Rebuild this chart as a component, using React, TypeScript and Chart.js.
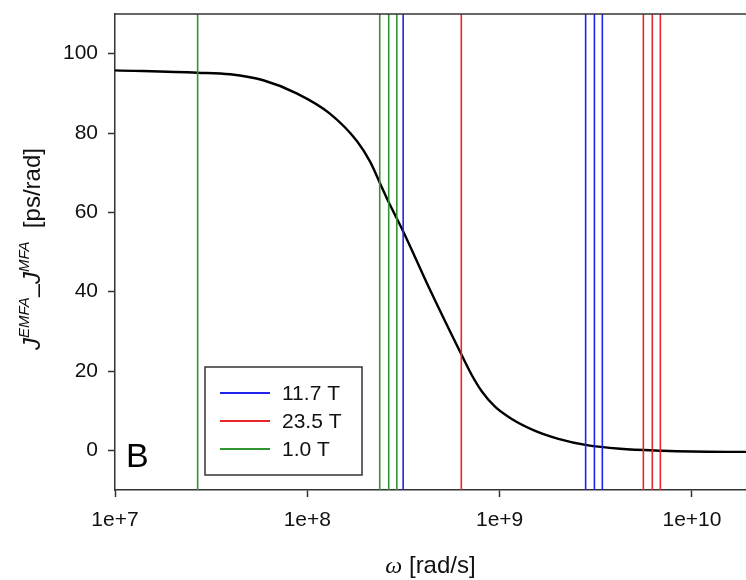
import React, { useEffect, useRef } from "react";
import { Chart, registerables } from "chart.js";

Chart.register(...registerables);

// Black curve: omega [rad/s] and J_EMFA - J_MFA [ps/rad]
const curveOmega = [1e7, 2.69e7, 3.97e7, 5.9e7, 8.8e7, 1.31e8, 1.81e8, 2.12e8, 2.39e8, 2.67e8, 3.13e8, 4.35e8, 6.32e8, 7.16e8, 8.07e8, 9.46e8, 1.156e9, 1.53e9, 2.02e9, 2.84e9, 4.23e9, 7e9, 1e10, 1.91e10];
const curveJ = [95.8, 95.2, 94.8, 93.3, 90.0, 84.9, 78.0, 72.8, 67.3, 62.2, 55.5, 40.4, 24.2, 19.0, 14.9, 11.0, 7.9, 4.9, 2.9, 1.3, 0.4, -0.1, -0.3, -0.4];

// Vertical frequency markers per field
const field117 = [3.15e8, 2.8e9, 3.11e9, 3.42e9];
const field235 = [6.32e8, 5.59e9, 6.22e9, 6.85e9];
const field10 = [2.69e7, 2.38e8, 2.65e8, 2.92e8];

const legendLabels = ["11.7 T", "23.5 T", "1.0 T"];
const legendColors = ["#2323ee", "#e8262a", "#2f962f"];

const xTicks = [1e7, 1e8, 1e9, 1e10];
const yTicks = [0, 20, 40, 60, 80, 100];
const xMin = 1e7;
const xMax = 1.91e10;
const yMin = -10;
const yMax = 110;

const SANS = "'Liberation Sans', Arial, sans-serif";

function vlineSets(values: number[], color: string) {
  return values.map((v) => ({
    data: [
      { x: v, y: yMin },
      { x: v, y: yMax },
    ],
    borderColor: color,
    borderWidth: 1.6,
    pointRadius: 0,
    fill: false,
  }));
}

const decorPlugin = {
  id: "decor",
  afterDraw(chart: any) {
    const ctx = chart.ctx as CanvasRenderingContext2D;
    const a = chart.chartArea;
    ctx.save();
    // top frame line
    ctx.strokeStyle = "#333";
    ctx.lineWidth = 1.5;
    ctx.beginPath();
    ctx.moveTo(a.left, a.top);
    ctx.lineTo(a.right, a.top);
    ctx.stroke();

    // Legend box
    ctx.fillStyle = "#fff";
    ctx.fillRect(205, 367, 157, 108);
    ctx.strokeStyle = "#333";
    ctx.lineWidth = 1.5;
    ctx.strokeRect(205, 367, 157, 108);
    const ys = [393, 421, 449];
    ctx.font = `21px ${SANS}`;
    ctx.textBaseline = "middle";
    ctx.textAlign = "left";
    legendLabels.forEach((lab, i) => {
      ctx.strokeStyle = legendColors[i];
      ctx.lineWidth = 2;
      ctx.beginPath();
      ctx.moveTo(220, ys[i]);
      ctx.lineTo(270, ys[i]);
      ctx.stroke();
      ctx.fillStyle = "#111";
      ctx.fillText(lab, 282, ys[i] + 1);
    });

    // Panel letter
    ctx.font = `34px ${SANS}`;
    ctx.textBaseline = "alphabetic";
    ctx.fillStyle = "#000";
    ctx.fillText("B", 126, 467);

    // X title
    ctx.font = `italic 24px 'Liberation Serif', 'Times New Roman', serif`;
    const w1 = ctx.measureText("\u03c9").width;
    ctx.font = `24px ${SANS}`;
    const w2 = ctx.measureText(" [rad/s]").width;
    const cx = (a.left + a.right) / 2;
    const sx = cx - (w1 + w2) / 2;
    ctx.font = `italic 24px 'Liberation Serif', 'Times New Roman', serif`;
    ctx.fillStyle = "#111";
    ctx.fillText("\u03c9", sx, 573);
    ctx.font = `24px ${SANS}`;
    ctx.fillText(" [rad/s]", sx + w1, 573);

    // Y title rotated
    const segs = [
      { t: "J", f: `italic 24px ${SANS}`, dy: 0 },
      { t: "EMFA", f: `italic 15px ${SANS}`, dy: -11 },
      { t: "\u2013", f: `24px ${SANS}`, dy: 5 },
      { t: "J", f: `italic 24px ${SANS}`, dy: 0 },
      { t: "MFA", f: `italic 15px ${SANS}`, dy: -11 },
      { t: "  [ps/rad]", f: `24px ${SANS}`, dy: 0 },
    ];
    let total = 0;
    const widths = segs.map((s) => {
      ctx.font = s.f;
      const w = ctx.measureText(s.t).width;
      total += w;
      return w;
    });
    ctx.translate(40, 249);
    ctx.rotate(-Math.PI / 2);
    let px = -total / 2;
    segs.forEach((s, i) => {
      ctx.font = s.f;
      ctx.fillText(s.t, px, s.dy);
      px += widths[i];
    });
    ctx.restore();
  },
};

export default function App() {
  const ref = useRef<HTMLCanvasElement | null>(null);
  useEffect(() => {
    if (!ref.current) return;
    const datasets: any[] = [
      ...vlineSets(field117, legendColors[0]),
      ...vlineSets(field235, legendColors[1]),
      ...vlineSets(field10, legendColors[2]),
      {
        data: curveOmega.map((x, i) => ({ x, y: curveJ[i] })),
        borderColor: "#000",
        borderWidth: 2.4,
        pointRadius: 0,
        fill: false,
        cubicInterpolationMode: "monotone",
      },
    ];
    const chart = new Chart(ref.current, {
      type: "line",
      data: { datasets },
      options: {
        animation: false,
        responsive: false,
        layout: { padding: { top: 14, right: 0, left: 0, bottom: 0 } },
        plugins: { legend: { display: false }, tooltip: { enabled: false } },
        scales: {
          x: {
            type: "logarithmic",
            min: xMin,
            max: xMax,
            afterBuildTicks: (axis: any) => {
              axis.ticks = xTicks.map((v) => ({ value: v }));
            },
            afterFit: (s: any) => {
              s.height = 90;
              s.paddingLeft = 0;
              s.paddingRight = 0;
            },
            ticks: {
              autoSkip: false,
              maxRotation: 0,
              padding: 11,
              color: "#111",
              font: { family: SANS, size: 21 },
              callback: (v: any) => "1e+" + Math.round(Math.log10(Number(v))),
            },
            grid: {
              drawOnChartArea: false,
              drawTicks: true,
              tickLength: 7,
              tickColor: "#333",
              tickWidth: 1.5,
            },
            border: { display: true, color: "#333", width: 1.5 },
          },
          y: {
            type: "linear",
            min: yMin,
            max: yMax,
            afterBuildTicks: (axis: any) => {
              axis.ticks = yTicks.map((v) => ({ value: v }));
            },
            afterFit: (s: any) => {
              s.width = 115;
              s.paddingTop = 0;
              s.paddingBottom = 0;
            },
            ticks: {
              padding: 10,
              color: "#111",
              font: { family: SANS, size: 21 },
            },
            grid: {
              drawOnChartArea: false,
              drawTicks: true,
              tickLength: 7,
              tickColor: "#333",
              tickWidth: 1.5,
            },
            border: { display: true, color: "#333", width: 1.5 },
          },
        },
      } as any,
      plugins: [decorPlugin],
    });
    return () => chart.destroy();
  }, []);
  return (
    <div style={{ position: "fixed", left: 0, top: 0, width: 746, height: 580, background: "#fff" }}>
      <canvas ref={ref} width={746} height={580} style={{ display: "block" }} />
    </div>
  );
}
